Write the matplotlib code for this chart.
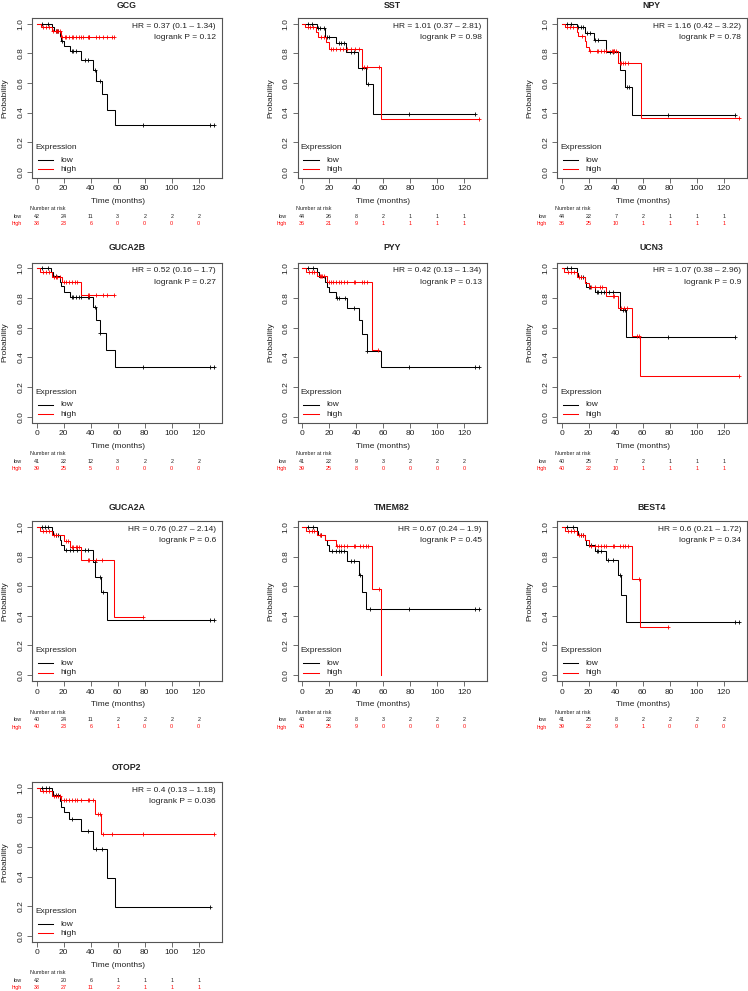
import numpy as np
import matplotlib
matplotlib.use("Agg")
import matplotlib.pyplot as plt
from matplotlib.transforms import blended_transform_factory

plt.rcParams['font.family'] = ['Liberation Sans', 'DejaVu Sans']

# ---------------- data ----------------
genes = ["GCG", "SST", "NPY", "GUCA2B", "PYY", "UCN3", "GUCA2A", "TMEM82", "BEST4", "OTOP2"]
hr_labels = ["HR = 0.37 (0.1 \u2013 1.34)", "HR = 1.01 (0.37 \u2013 2.81)", "HR = 1.16 (0.42 \u2013 3.22)",
             "HR = 0.52 (0.16 \u2013 1.7)", "HR = 0.42 (0.13 \u2013 1.34)", "HR = 1.07 (0.38 \u2013 2.96)",
             "HR = 0.76 (0.27 \u2013 2.14)", "HR = 0.67 (0.24 \u2013 1.9)", "HR = 0.6 (0.21 \u2013 1.72)",
             "HR = 0.4 (0.13 \u2013 1.18)"]
p_labels = ["logrank P = 0.12", "logrank P = 0.98", "logrank P = 0.78", "logrank P = 0.27",
            "logrank P = 0.13", "logrank P = 0.9", "logrank P = 0.6", "logrank P = 0.45",
            "logrank P = 0.34", "logrank P = 0.036"]
risk_times = [0, 20, 40, 60, 80, 100, 120]
risk_low = [[42, 24, 11, 3, 2, 2, 2], [44, 26, 8, 2, 1, 1, 1], [44, 22, 7, 2, 1, 1, 1],
            [41, 22, 12, 3, 2, 2, 2], [41, 22, 9, 3, 2, 2, 2], [40, 25, 7, 2, 1, 1, 1],
            [40, 24, 11, 2, 2, 2, 2], [40, 22, 8, 3, 2, 2, 2], [41, 25, 8, 2, 2, 2, 2],
            [42, 20, 6, 1, 1, 1, 1]]
risk_high = [[38, 23, 6, 0, 0, 0, 0], [36, 21, 9, 1, 1, 1, 1], [36, 25, 10, 1, 1, 1, 1],
             [39, 25, 5, 0, 0, 0, 0], [39, 25, 8, 0, 0, 0, 0], [40, 22, 10, 1, 1, 1, 1],
             [40, 23, 6, 1, 0, 0, 0], [40, 25, 9, 0, 0, 0, 0], [39, 22, 9, 1, 0, 0, 0],
             [38, 27, 11, 2, 1, 1, 1]]

# GCG
gcg_low_t = [11, 13, 17, 18, 20, 25, 33, 42, 44, 48, 52, 58]
gcg_low_s = [0.976, 0.952, 0.915, 0.88, 0.848, 0.812, 0.757, 0.69, 0.61, 0.525, 0.42, 0.315]
gcg_low_c = [4, 8, 14, 15, 16, 18.5, 26, 27, 29, 36, 38, 43, 47, 79, 128, 131]
gcg_high_t = [3, 11, 18]
gcg_high_s = [0.974, 0.947, 0.907]
gcg_high_c = [5, 7, 9, 12, 14, 15, 16, 17, 19, 21, 22, 24, 26, 27, 29, 31, 33, 34, 38, 38.5, 39,
              44, 46, 49, 52, 56, 57.5]
# SST
sst_low_t = [11, 17, 25, 32.6, 41.5, 47.4, 52.3]
sst_low_s = [0.973, 0.912, 0.872, 0.808, 0.703, 0.59, 0.392]
sst_low_c = [4, 7.5, 12, 13, 16, 18, 20, 27, 29, 31, 36, 38, 44, 49, 79, 128]
sst_high_t = [2, 10, 12, 17.8, 20, 44, 58.5]
sst_high_s = [0.975, 0.945, 0.912, 0.875, 0.831, 0.707, 0.358]
sst_high_c = [4, 6, 8, 14, 16, 21, 23, 25, 28, 30, 33, 36, 39, 42, 46, 48, 57, 131]
# NPY
npy_low_t = [11, 17, 24, 32.6, 43, 47, 52]
npy_low_s = [0.975, 0.939, 0.892, 0.81, 0.689, 0.574, 0.381]
npy_low_c = [4, 7, 12, 14, 16, 19, 21, 25, 27, 36, 38, 48, 50, 79, 128]
npy_high_t = [2.2, 11, 12, 17, 18, 20, 42, 58.5]
npy_high_s = [0.975, 0.945, 0.917, 0.88, 0.845, 0.812, 0.732, 0.365]
npy_high_c = [4, 6, 8, 15, 21, 26, 27, 29, 31, 33, 37, 38, 38.5, 39, 40, 43, 44, 45, 47, 49, 131]
# GUCA2B
guca2b_low_t = [10.4, 12, 17, 18, 20, 25, 41.5, 44, 47, 51.4, 58]
guca2b_low_s = [0.975, 0.948, 0.91, 0.881, 0.84, 0.804, 0.737, 0.654, 0.562, 0.449, 0.337]
guca2b_low_c = [4, 8, 14, 26, 27, 29, 31, 33, 38, 39, 43, 47, 79, 128, 131]
guca2b_high_t = [2.5, 11, 18.8, 33]
guca2b_high_s = [0.975, 0.945, 0.91, 0.82]
guca2b_high_c = [5, 7, 9, 13, 14, 15, 17, 20, 22, 24, 26, 28, 30, 38, 39, 44, 49, 52, 57]
# PYY
pyy_low_t = [11, 12.5, 17, 18, 20, 25, 33, 42, 44, 48, 58]
pyy_low_s = [0.975, 0.941, 0.91, 0.875, 0.84, 0.80, 0.733, 0.655, 0.56, 0.445, 0.335]
pyy_low_c = [4, 8, 26, 27, 32, 38, 48, 79, 128, 131]
pyy_high_t = [2.5, 11, 18, 52]
pyy_high_s = [0.975, 0.948, 0.91, 0.45]
pyy_high_c = [5, 7, 9, 13, 14, 15, 16, 20, 21, 23, 25, 27, 29, 31, 33, 38, 39, 44, 46, 48, 56]
# UCN3
ucn3_low_t = [11, 12, 17, 18, 25, 43, 47.5]
ucn3_low_s = [0.97, 0.945, 0.91, 0.876, 0.838, 0.719, 0.539]
ucn3_low_c = [4, 7, 14, 16, 20, 21, 26, 27, 29, 31, 33, 35, 38, 45, 47, 79, 128]
ucn3_high_t = [2, 11, 17, 20, 33, 42, 52, 58]
ucn3_high_s = [0.975, 0.945, 0.905, 0.872, 0.816, 0.73, 0.546, 0.274]
ucn3_high_c = [5, 7, 9, 13, 14, 22, 25, 28, 30, 38, 39, 44, 46, 48, 56, 57, 131]
# GUCA2A
guca2a_low_t = [11, 12, 17, 18, 20, 42, 43.5, 47.5, 52]
guca2a_low_s = [0.975, 0.945, 0.91, 0.878, 0.845, 0.766, 0.664, 0.561, 0.372]
guca2a_low_c = [4, 6, 8, 14, 16, 22, 25, 27, 30, 33, 36, 38, 43, 47, 49, 128, 131]
guca2a_high_t = [2.5, 11, 20, 25, 33, 57.5]
guca2a_high_s = [0.975, 0.944, 0.905, 0.865, 0.78, 0.392]
guca2a_high_c = [5, 7, 9, 13, 14, 22, 23, 26, 27, 29, 30, 31, 38, 39, 44, 48, 79]
# TMEM82
tmem82_low_t = [11, 12, 17, 18, 20, 33, 42, 44, 47.5]
tmem82_low_s = [0.975, 0.945, 0.91, 0.875, 0.836, 0.77, 0.673, 0.56, 0.448]
tmem82_low_c = [4, 8, 14, 22, 25, 27, 29, 31, 36, 38, 43, 50, 79, 128, 131]
tmem82_high_t = [2.5, 11, 17, 25, 52, 58]
tmem82_high_s = [0.975, 0.945, 0.91, 0.874, 0.58, 0.0]
tmem82_high_c = [5, 7, 9, 13, 14, 26, 27, 29, 31, 33, 38, 39, 43, 45, 47, 49, 57]
# BEST4
best4_low_t = [11, 12, 17, 18, 25, 33, 42, 44, 47.5]
best4_low_s = [0.97, 0.945, 0.91, 0.875, 0.836, 0.777, 0.676, 0.54, 0.36]
best4_low_c = [4, 8, 14, 16, 20, 22, 26, 27, 29, 34, 38, 43, 128, 131]
best4_high_t = [2.5, 11, 17.5, 20, 52, 58]
best4_high_s = [0.975, 0.945, 0.91, 0.874, 0.65, 0.325]
best4_high_c = [5, 7, 9, 13, 14, 16, 22, 25, 27, 29, 31, 33, 38, 39, 43, 45, 47, 49, 57, 79]
# OTOP2
otop2_low_t = [11, 12, 17, 18, 20, 24, 33, 42, 52, 58]
otop2_low_s = [0.975, 0.953, 0.91, 0.872, 0.836, 0.786, 0.708, 0.589, 0.393, 0.196]
otop2_low_c = [4, 7, 9, 14, 16, 26, 38, 44, 48, 128]
otop2_high_t = [2.5, 11, 18, 43, 47.5]
otop2_high_s = [0.975, 0.945, 0.915, 0.825, 0.685]
otop2_high_c = [5, 7, 9, 13, 14, 16, 17, 20, 22, 24, 26, 28, 30, 33, 38, 39, 42, 45, 47, 49, 56, 79, 131]

curves = {
    "GCG": ((gcg_low_t, gcg_low_s, gcg_low_c), (gcg_high_t, gcg_high_s, gcg_high_c)),
    "SST": ((sst_low_t, sst_low_s, sst_low_c), (sst_high_t, sst_high_s, sst_high_c)),
    "NPY": ((npy_low_t, npy_low_s, npy_low_c), (npy_high_t, npy_high_s, npy_high_c)),
    "GUCA2B": ((guca2b_low_t, guca2b_low_s, guca2b_low_c), (guca2b_high_t, guca2b_high_s, guca2b_high_c)),
    "PYY": ((pyy_low_t, pyy_low_s, pyy_low_c), (pyy_high_t, pyy_high_s, pyy_high_c)),
    "UCN3": ((ucn3_low_t, ucn3_low_s, ucn3_low_c), (ucn3_high_t, ucn3_high_s, ucn3_high_c)),
    "GUCA2A": ((guca2a_low_t, guca2a_low_s, guca2a_low_c), (guca2a_high_t, guca2a_high_s, guca2a_high_c)),
    "TMEM82": ((tmem82_low_t, tmem82_low_s, tmem82_low_c), (tmem82_high_t, tmem82_high_s, tmem82_high_c)),
    "BEST4": ((best4_low_t, best4_low_s, best4_low_c), (best4_high_t, best4_high_s, best4_high_c)),
    "OTOP2": ((otop2_low_t, otop2_low_s, otop2_low_c), (otop2_high_t, otop2_high_s, otop2_high_c)),
}

# ---------------- layout ----------------
W_PX, H_PX = 748, 991
fig = plt.figure(figsize=(W_PX / 100, H_PX / 100), dpi=100)
col_L = [32, 297.5, 557]
row_T = [17.7, 262.5, 521, 781.7]
box_w, box_h = 189.5, 160
title_y = [6, 248, 507, 767.7]

TXT = '#222222'
GRAY = '#555555'
FS = 6.0
FS_SMALL = 3.9


def fx(x):
    return x / W_PX


def fy(y):
    return 1 - y / H_PX


def km_draw(ax, t, s, c, color):
    t = np.asarray(t, float)
    s = np.asarray(s, float)
    c = np.asarray(c, float)
    end = max(t.max(), c.max() if len(c) else 0)
    xs = np.concatenate([[0], t, [end]])
    ys = np.concatenate([[1.0], s, [s[-1]]])
    ax.step(xs, ys, where='post', color=color, lw=0.75, solid_joinstyle='miter')
    idx = np.searchsorted(t, c, side='right')
    cy = np.where(idx == 0, 1.0, s[np.maximum(idx - 1, 0)])
    ax.plot(c, cy, ls='none', marker='+', ms=3.2, mew=0.6, color=color)


for i, g in enumerate(genes):
    r, cidx = divmod(i, 3)
    L, T = col_L[cidx], row_T[r]
    B = T + box_h
    ax = fig.add_axes([fx(L), fy(B), box_w / W_PX, box_h / H_PX])
    (lt, ls_, lc), (ht, hs, hc) = curves[g]
    km_draw(ax, lt, ls_, lc, 'black')
    km_draw(ax, ht, hs, hc, 'red')
    ax.set_xlim(-3.5, 136.8)
    ax.set_ylim(-0.04, 1.04)
    ax.set_xticks(risk_times)
    ax.set_xticklabels([str(v) for v in risk_times])
    yt = [0.0, 0.2, 0.4, 0.6, 0.8, 1.0]
    ax.set_yticks(yt)
    ax.set_yticklabels(['%.1f' % v for v in yt], rotation=90, va='center')
    for sp in ax.spines.values():
        sp.set_color(GRAY)
        sp.set_linewidth(0.8)
    ax.tick_params(length=3.6, width=0.6, color=GRAY, labelsize=FS, labelcolor=TXT, pad=2.0)

    # title
    fig.text(fx(L + box_w / 2), fy(title_y[r]), g, ha='center', va='center',
             fontsize=6.3, fontweight='bold', color=TXT)
    # axis labels
    fig.text(fx(L - 27), fy(T + box_h / 2), 'Probability', rotation=90, ha='center', va='center',
             fontsize=FS, color=TXT)
    fig.text(fx(L + 4.7 + 81), fy(B + 24), 'Time (months)', ha='center', va='center',
             fontsize=FS, color=TXT)
    # HR text
    fig.text(fx(L + 184), fy(T + 8.3), hr_labels[i], ha='right', va='center', fontsize=FS, color=TXT)
    fig.text(fx(L + 184), fy(T + 19.6), p_labels[i], ha='right', va='center', fontsize=FS, color=TXT)
    # legend
    fig.text(fx(L + 3), fy(T + 130), 'Expression', ha='left', va='center', fontsize=FS, color=TXT)
    for yy, col, lab in [(T + 142.3, 'black', 'low'), (T + 151.6, 'red', 'high')]:
        fig.add_artist(plt.Line2D([fx(L + 5.7), fx(L + 21.3)], [fy(yy), fy(yy)], color=col, lw=0.75,
                                  transform=fig.transFigure))
        fig.text(fx(L + 28.7), fy(yy), lab, ha='left', va='center', fontsize=FS, color=TXT)
    # number at risk
    tr = blended_transform_factory(ax.transData, fig.transFigure)
    fig.text(fx(L - 2), fy(B + 31.3), 'Number at risk', ha='left', va='center', fontsize=FS_SMALL, color=TXT)
    fig.text(fx(L - 10.5), fy(B + 38.8), 'low', ha='right', va='center', fontsize=FS_SMALL, color=TXT)
    fig.text(fx(L - 10.5), fy(B + 46), 'high', ha='right', va='center', fontsize=FS_SMALL, color='red')
    for tt, nl, nh in zip(risk_times, risk_low[i], risk_high[i]):
        ax.text(tt, fy(B + 38.8), str(nl), transform=tr, ha='center', va='center',
                fontsize=FS_SMALL, color=TXT, clip_on=False)
        ax.text(tt, fy(B + 46), str(nh), transform=tr, ha='center', va='center',
                fontsize=FS_SMALL, color='red', clip_on=False)

fig.savefig('out.png', dpi=100, facecolor='white')
